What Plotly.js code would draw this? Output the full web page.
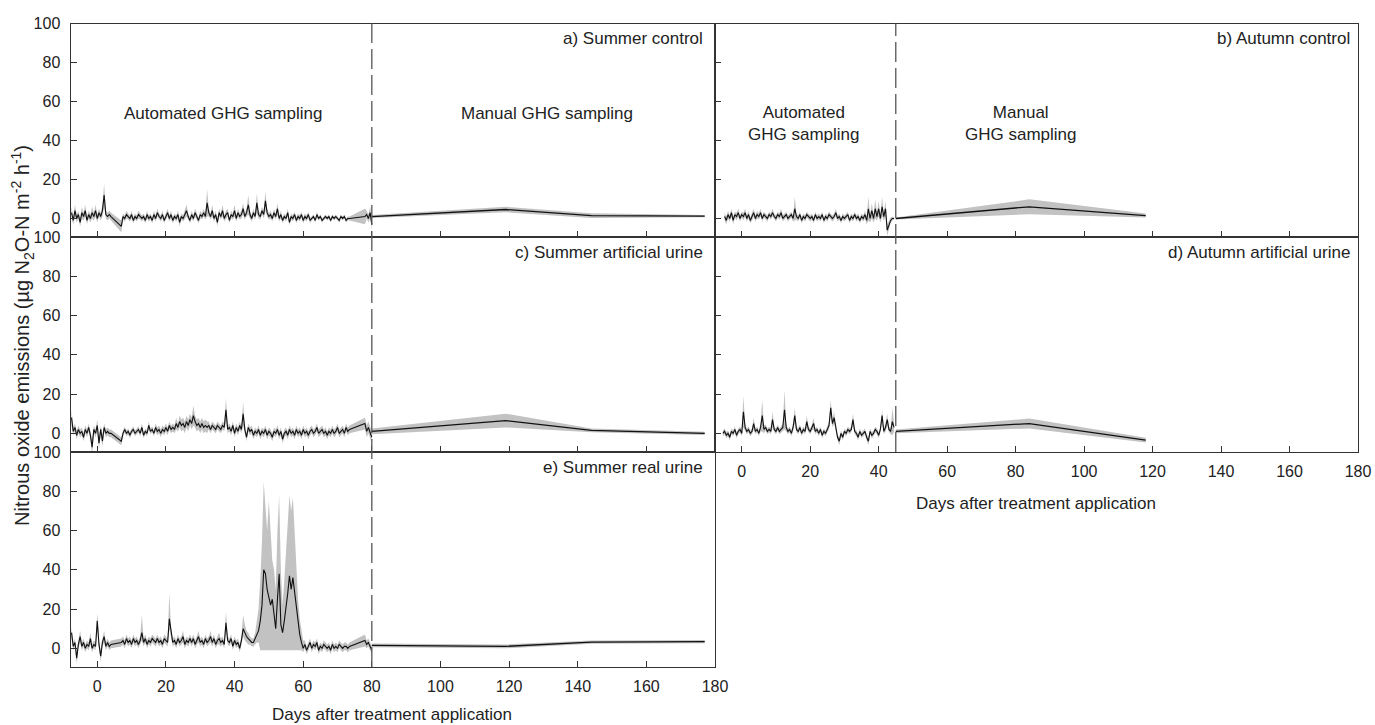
<!DOCTYPE html>
<html><head><meta charset="utf-8">
<script src="https://cdn.plot.ly/plotly-3.0.1.min.js"></script>
<style>html,body{margin:0;padding:0;background:#fff}#chart{width:1375px;height:725px}</style>
</head><body><div id="chart"></div>
<script>
const n = null;
// automated sampling: values every 0.5 day starting at x0
const autoStep = 0.5;

// a) Summer control
const a_x0 = -7.5;
const a_mean = [
 3,-1,4,0,2,-2,3,1,4,-1,
 2,0,3,1,4,0,3,1,4,12,
 2,1,2,1,n,n,n,n,n,-4,
 1,0,2,1,0,2,-1,1,0,2,
 1,0,1,-1,2,0,1,-1,2,0,
 3,1,0,2,-1,1,3,0,2,-1,
 1,0,2,-2,1,0,2,4,1,-1,
 2,0,3,1,-1,2,1,3,1,8,
 3,1,4,0,2,-2,3,1,4,0,
 2,3,-1,2,1,4,0,3,1,2,
 5,1,3,7,2,0,3,1,8,2,
 1,4,2,9,3,1,2,0,3,1,
 5,0,2,-1,1,0,3,-2,1,0,
 2,-1,1,0,2,-1,1,0,2,-1,
 0,1,-1,2,0,1,-1,0,1,0,
 1,-1,1,0,1,0,-1,1,0,1,
 -1,0,0,n,n,n,n,n,n,n,
 n,1,2,0,3,-3];
const a_sd = [
 3,2,3,2,2,2,3,2,3,2,
 2,2,3,2,3,2,2,2,3,6,
 2,2,2,2,n,n,n,n,n,3,
 1.5,1.5,2,1.5,1.5,2,1.5,1.5,1.5,2,
 1.5,1.5,1.5,1.5,2,1.5,1.5,1.5,2,1.5,
 2,1.5,1.5,2,1.5,1.5,2,1.5,2,1.5,
 1.5,1.5,2,2,1.5,1.5,2,3,1.5,1.5,
 2,1.5,2,1.5,1.5,2,1.5,2,1.5,7,
 2,1.5,3,1.5,2,2,2,1.5,3,1.5,
 2,2,1.5,2,1.5,3,1.5,2,1.5,2,
 3,1.5,2,5,2,1.5,2,1.5,5,2,
 1.5,2,2,5,2,1.5,2,1.5,2,1.5,
 3,1.5,2,1.5,1.5,1.5,2,1.5,1.5,1.5,
 1.5,1.5,1.5,1.5,1.5,1.5,1.5,1.5,1.5,1.5,
 1,1,1,1.5,1,1,1,1,1,1,
 1,1,1,1,1,1,1,1,1,1,
 1,1,1,n,n,n,n,n,n,n,
 n,4,2,2,3,3];
const a_manDays = [80, 119, 144, 177];
const a_manMean = [1, 4.6, 1.5, 1.2];
const a_manSd = [0.8, 1.4, 1.2, 0.6];

// b) Autumn control
const b_x0 = -5;
const b_mean = [
 1,-1,2,0,3,-1,2,1,3,0,
 2,1,3,0,2,-1,1,3,0,2,
 1,3,0,2,1,0,2,1,3,1,
 0,2,1,3,0,1,2,0,1,2,
 0,5,1,0,2,-1,1,0,2,1,
 0,1,-1,2,0,1,0,2,-1,1,
 0,2,1,0,1,3,0,1,-1,1,
 0,1,2,-1,1,0,2,0,1,-1,
 1,0,2,-1,5,0,4,0,5,1,
 5,0,6,1,5,-6,-3,-1,0,0];
const b_sd = [
 2,2,2,1.5,2,2,1.5,2,2,1.5,
 1.5,2,2,1.5,2,1.5,2,2,1.5,2,
 1.5,2,1.5,1.5,1.5,1.5,1.5,1.5,2,1.5,
 1.5,1.5,1.5,2,1.5,1.5,1.5,1.5,1.5,1.5,
 1.5,6,1.5,1.5,1.5,1.5,1.5,1.5,1.5,1.5,
 1.5,1.5,1.5,1.5,1.5,1.5,1.5,1.5,1.5,1.5,
 1.5,1.5,1.5,1.5,1.5,2,1.5,1.5,1.5,1.5,
 1.5,1.5,1.5,1.5,1.5,1.5,1.5,1.5,1.5,1.5,
 1.5,1.5,2,2,6,2,4,2,5,2,
 4,2,5,2,4,3,2,1.5,1,0.5];
const b_manDays = [45, 84, 118];
const b_manMean = [0, 6, 1.5];
const b_manSd = [0.5, 3.8, 1];

// c) Summer artificial urine
const c_x0 = -7.5;
const c_mean = [
 8,1,3,-1,2,0,1,-2,2,0,
 3,-1,-7,2,0,4,-5,2,-4,3,
 0,1,0,0,n,n,n,n,n,-4,
 0,2,0,1,-1,1,2,0,1,2,
 0,3,-1,1,0,4,1,2,0,3,
 1,2,0,2,1,3,1,4,2,3,
 2,5,3,6,4,5,3,6,4,7,
 5,9,6,4,5,3,5,3,4,3,
 4,2,4,3,2,4,3,2,4,3,
 12,2,3,1,4,0,3,1,4,2,
 10,2,-2,3,1,2,-1,1,0,2,
 -1,1,0,2,-1,1,0,-2,1,0,
 2,-1,1,-3,0,1,-1,2,0,1,
 -1,2,0,1,-1,2,0,1,-1,1,
 2,0,1,3,0,1,2,0,1,-1,
 1,0,2,0,1,3,0,1,2,0,
 3,1,2,n,n,n,n,n,n,n,
 n,5,1,3,0,-2];
const c_sd = [
 4,2,2,2,2,2,2,2,2,2,
 2,2,4,2,2,3,3,2,3,2,
 2,2,2,2,n,n,n,n,n,2,
 1.5,1.5,1.5,1.5,1.5,1.5,1.5,1.5,1.5,1.5,
 1.5,2,1.5,1.5,1.5,2,1.5,1.5,1.5,2,
 2,2,2,2,2,2,2,2,2,2,
 2,3,2,3,3,3,3,3,3,3,
 3,5,3,3,3,3,3,3,3,3,
 2,2,2,2,2,2,2,2,2,2,
 6,2,2,2,2,2,2,2,2,2,
 6,2,2,2,2,2,2,2,2,2,
 2,2,2,2,2,2,2,2,2,2,
 2,2,2,2,2,2,2,2,2,2,
 2,2,2,2,2,2,2,2,2,2,
 2,2,2,2,2,2,2,2,2,2,
 2,2,2,2,2,2,2,2,2,2,
 2,2,2,n,n,n,n,n,n,n,
 n,3,3,3,3,3];
const c_manDays = [80, 119, 144, 177];
const c_manMean = [1, 6.5, 1.5, 0];
const c_manSd = [1.5, 3.5, 1, 0.8];

// d) Autumn artificial urine
const d_x0 = -5.5;
const d_mean = [
 0,1,-1,0,-2,1,0,2,-1,1,
 2,0,11,3,1,2,0,1,5,1,
 2,0,3,9,2,3,1,2,1,7,
 2,1,3,1,2,3,12,3,1,2,
 0,3,9,2,1,3,0,2,1,6,
 2,1,3,5,1,2,0,2,-1,1,
 0,2,4,13,5,8,2,-2,-4,0,
 -2,1,0,2,1,2,7,1,0,-2,
 1,-1,0,1,-2,-4,1,-1,0,2,
 1,-1,2,9,1,3,7,2,1,6,
 3];
const d_sd = [
 1.5,1.5,1.5,1.5,1.5,1.5,1.5,1.5,1.5,1.5,
 1.5,1.5,8,2,1.5,1.5,1.5,1.5,3,1.5,
 1.5,1.5,2,8,2,1.5,1.5,1.5,1.5,4,
 1.5,1.5,1.5,1.5,1.5,2,10,2,1.5,1.5,
 1.5,2,4,1.5,1.5,1.5,1.5,1.5,1.5,3,
 1.5,1.5,1.5,3,1.5,1.5,1.5,1.5,1.5,1.5,
 1.5,1.5,2,4,2,3,1.5,1.5,2,1.5,
 1.5,1.5,1.5,1.5,1.5,1.5,3,1.5,1.5,1.5,
 1.5,1.5,1.5,1.5,1.5,2,1.5,1.5,1.5,1.5,
 1.5,1.5,1.5,3,1.5,2,3,1.5,1.5,7,
 2];
const d_manDays = [45, 84, 118];
const d_manMean = [1, 5, -3.5];
const d_manSd = [1, 2.5, 1.2];

// e) Summer real urine
const e_x0 = -7.5;
const e_mean = [
 8,1,3,-5,2,6,1,3,0,2,
 1,5,0,2,1,14,2,-4,3,6,
 1,3,1,2,n,n,n,n,n,3,
 4,2,5,3,4,2,5,3,4,2,
 4,8,3,5,2,4,3,5,4,3,
 5,3,4,2,5,4,3,15,8,3,
 4,2,5,3,4,6,2,4,3,5,
 3,5,2,4,6,3,4,2,5,3,
 4,6,3,5,2,4,5,3,4,2,
 13,4,3,5,1,4,2,3,0,4,
 10,8,6,5,4,3,3,5,7,9,
 14,22,40,38,30,26,22,25,18,10,
 25,38,12,8,14,20,28,37,30,36,
 28,20,12,7,3,0,2,-1,1,3,
 0,2,1,3,-1,1,0,2,1,0,
 1,-1,2,0,1,0,2,1,0,1,
 1,0,1,n,n,n,n,n,n,n,
 n,4,2,3,1,-1];
const e_sdUp = [
 3,2,2,3,2,3,2,2,2,2,
 2,3,2,2,2,4,2,3,2,3,
 2,2,2,2,n,n,n,n,n,2,
 2,2,2,2,2,2,2,2,2,2,
 2,9,2,2,2,2,2,2,2,2,
 2,2,2,2,2,2,2,13,3,2,
 2,2,2,2,2,3,2,2,2,2,
 2,2,2,2,3,2,2,2,2,2,
 2,3,2,2,2,2,3,2,2,2,
 6,2,2,2,2,2,2,2,2,2,
 7,4,3,3,2,2,2,3,6,11,
 21,33,45,32,30,49,38,20,22,20,
 35,40,28,14,21,30,37,41,40,41,
 32,20,13,8,5,4,2,2,2,2,
 2,2,2,2,2,2,2,2,2,2,
 2,2,2,2,2,2,2,2,2,2,
 2,2,2,n,n,n,n,n,n,n,
 n,3,2,2,2,2];
const e_sdDown = [
 3,2,2,3,2,3,2,2,2,2,
 2,3,2,2,2,4,2,3,2,3,
 2,2,2,2,n,n,n,n,n,2,
 2,2,2,2,2,2,2,2,2,2,
 2,4,2,2,2,2,2,2,2,2,
 2,2,2,2,2,2,2,5,3,2,
 2,2,2,2,2,3,2,2,2,2,
 2,2,2,2,3,2,2,2,2,2,
 2,3,2,2,2,2,3,2,2,2,
 4,2,2,2,2,2,2,2,2,2,
 4,4,3,3,2,2,2,3,4,6,
 15,23,41,39,31,27,23,26,19,11,
 26,39,13,9,15,21,29,38,31,37,
 29,21,13,8,4,2,2,2,2,2,
 2,2,2,2,2,2,2,2,2,2,
 2,2,2,2,2,2,2,2,2,2,
 2,2,2,n,n,n,n,n,n,n,
 n,3,2,2,2,2];
const e_manDays = [80, 119, 144, 177];
const e_manMean = [1.5, 1, 3.2, 3.4];
const e_manSd = [1, 1, 0.8, 0.8];

// tick labels
const dayTicks = [0, 20, 40, 60, 80, 100, 120, 140, 160, 180];
const fluxTicks = [0, 20, 40, 60, 80, 100];
const switchDayLeft = 80;   // automated -> manual, summer
const switchDayRight = 45;  // automated -> manual, autumn

const FONT = 'Liberation Sans, Arial, Helvetica, sans-serif';
const BAND = '#c2c2c2';
const traces = [];

function addAuto(ax, x0, mean, up, dn) {
  const hi = mean.map((v, i) => v === null ? null : v + up[i]);
  const lo = mean.map((v, i) => v === null ? null : v - dn[i]);
  const base = {xaxis: 'x' + ax, yaxis: 'y' + ax, x0: x0, dx: autoStep, mode: 'lines',
    connectgaps: true, hoverinfo: 'skip', showlegend: false};
  traces.push(Object.assign({}, base, {y: hi, line: {width: 0, color: BAND}}));
  traces.push(Object.assign({}, base, {y: lo, line: {width: 0, color: BAND}, fill: 'tonexty', fillcolor: BAND}));
  traces.push(Object.assign({}, base, {y: mean, line: {width: 1.1, color: '#111'}}));
}
function addManual(ax, days, mean, sd) {
  const base = {xaxis: 'x' + ax, yaxis: 'y' + ax, x: days, mode: 'lines', hoverinfo: 'skip', showlegend: false};
  traces.push(Object.assign({}, base, {y: mean.map((v, i) => v + sd[i]), line: {width: 0, color: BAND}}));
  traces.push(Object.assign({}, base, {y: mean.map((v, i) => v - sd[i]), line: {width: 0, color: BAND}, fill: 'tonexty', fillcolor: BAND}));
  traces.push(Object.assign({}, base, {y: mean, line: {width: 1.3, color: '#111'}}));
}

addAuto('', a_x0, a_mean, a_sd, a_sd);           addManual('', a_manDays, a_manMean, a_manSd);
addAuto('2', b_x0, b_mean, b_sd, b_sd);          addManual('2', b_manDays, b_manMean, b_manSd);
addAuto('3', c_x0, c_mean, c_sd, c_sd);          addManual('3', c_manDays, c_manMean, c_manSd);
addAuto('4', d_x0, d_mean, d_sd, d_sd);          addManual('4', d_manDays, d_manMean, d_manSd);
addAuto('5', e_x0, e_mean, e_sdUp, e_sdDown);    addManual('5', e_manDays, e_manMean, e_manSd);

const W = 1375, H = 725;
const px = v => v / W, py = v => 1 - v / H;
const colL = [px(70.5), px(715)], colR = [px(715), px(1358)];
const rowA = [py(237), py(23.5)], rowC = [py(452), py(237)], rowE = [py(667), py(452)];

const TICKFONT = {family: FONT, size: 16, color: '#222'};
function xa(domain, anchor, labels) {
  return {domain: domain, anchor: anchor, range: [-7.8, 180], tickvals: dayTicks,
    ticktext: dayTicks.map(String), showticklabels: labels,
    showline: true, mirror: true, linecolor: '#333', linewidth: 1,
    ticks: 'inside', ticklen: 6, tickcolor: '#333', tickwidth: 1,
    showgrid: false, zeroline: false, ticklabelstandoff: 5, tickfont: TICKFONT};
}
function ya(domain, anchor, labels) {
  return {domain: domain, anchor: anchor, range: [-9.5, 100], tickvals: fluxTicks,
    ticktext: fluxTicks.map(String), showticklabels: labels,
    showline: true, mirror: true, linecolor: '#333', linewidth: 1,
    ticks: 'inside', ticklen: 6, tickcolor: '#333', tickwidth: 1,
    showgrid: false, zeroline: false, ticklabelstandoff: 6, tickfont: TICKFONT};
}

function txt(x, y, text, xanchor, size, extra) {
  return Object.assign({xref: 'paper', yref: 'paper', x: px(x), y: py(y), text: text,
    showarrow: false, xanchor: xanchor, yanchor: 'middle',
    font: {family: FONT, size: size, color: '#222'}}, extra || {});
}

const layout = {
  width: W, height: H, margin: {l: 0, r: 0, t: 0, b: 0},
  paper_bgcolor: '#fff', plot_bgcolor: 'rgba(0,0,0,0)', showlegend: false,
  xaxis: xa(colL, 'y', false), yaxis: ya(rowA, 'x', true),
  xaxis2: xa(colR, 'y2', false), yaxis2: ya(rowA, 'x2', false),
  xaxis3: xa(colL, 'y3', false), yaxis3: ya(rowC, 'x3', true),
  xaxis4: xa(colR, 'y4', true), yaxis4: ya(rowC, 'x4', false),
  xaxis5: xa(colL, 'y5', true), yaxis5: ya(rowE, 'x5', true),
  shapes: [
    {type: 'line', xref: 'x5', yref: 'paper', x0: switchDayLeft, x1: switchDayLeft, y0: rowE[0], y1: rowA[1],
     line: {color: '#555', width: 1.3, dash: '20px,6px'}},
    {type: 'line', xref: 'x2', yref: 'paper', x0: switchDayRight, x1: switchDayRight, y0: rowC[0], y1: rowA[1],
     line: {color: '#555', width: 1.3, dash: '20px,6px'}}
  ],
  annotations: [
    txt(705, 38, 'a) Summer control', 'right', 17),
    txt(1352, 38, 'b) Autumn control', 'right', 17),
    txt(705, 253, 'c) Summer artificial urine', 'right', 17),
    txt(1352, 253, 'd) Autumn artificial urine', 'right', 17),
    txt(705, 467, 'e) Summer real urine', 'right', 17),
    txt(223, 113, 'Automated GHG sampling', 'center', 17),
    txt(547, 113, 'Manual GHG sampling', 'center', 17),
    txt(803, 123, 'Automated<br>GHG sampling', 'center', 17),
    txt(1020, 123, 'Manual<br>GHG sampling', 'center', 17),
    txt(392, 714, 'Days after treatment application', 'center', 17),
    txt(1036, 503, 'Days after treatment application', 'center', 17),
    txt(22, 336, 'Nitrous oxide emissions (µg N<sub>2</sub>O-N m<sup>-2</sup> h<sup>-1</sup>)', 'center', 20, {textangle: -90})
  ]
};

Plotly.newPlot('chart', traces, layout, {staticPlot: true, displayModeBar: false});
</script>
</body></html>
